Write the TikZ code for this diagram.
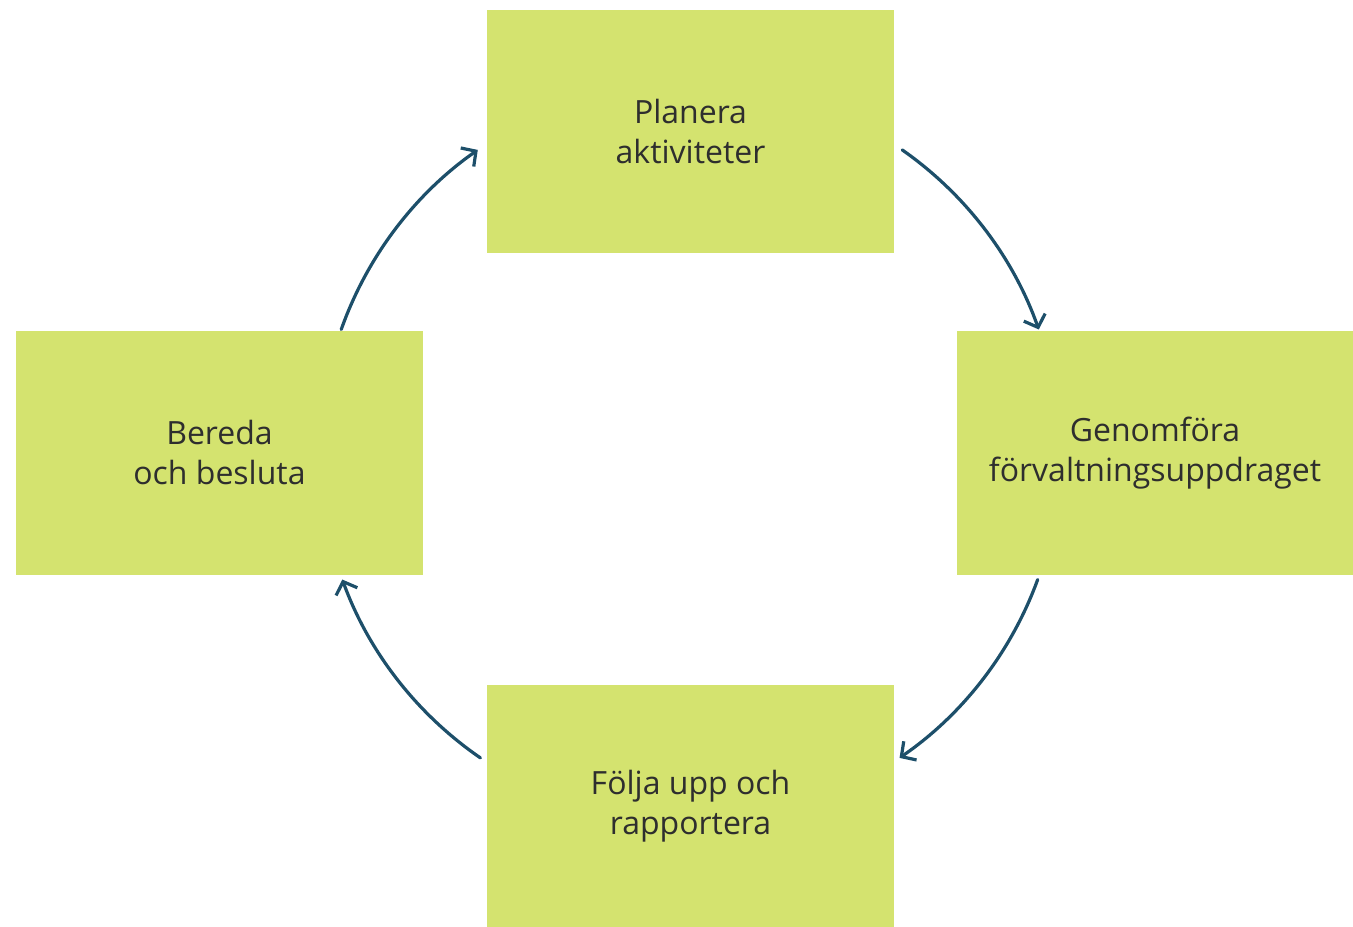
\documentclass[tikz,border=0pt]{standalone}
\usepackage{fontspec}
\setmainfont{Open Sans}
\usetikzlibrary{arrows.meta,calc}
\definecolor{boxgreen}{HTML}{D4E36F}
\definecolor{arrowblue}{HTML}{1D4F6A}
\definecolor{txtgray}{HTML}{2E2E2E}
\tikzset{
  stepbox/.style={fill=boxgreen, draw=none, inner sep=0pt, align=center,
    text=txtgray, font=\fontsize{24}{30}\selectfont},
  cyclearrow/.style={draw=arrowblue, line width=2.4pt, line cap=round,
    -{Straight Barb[length=8pt,width=17pt,line width=2.4pt]}}
}
\begin{document}
\begin{tikzpicture}[x=0.75pt,y=0.75pt]
\useasboundingbox (0,0) rectangle (1353,927);
\node[stepbox, minimum width=305.25pt, minimum height=182.25pt] (top) at (690.5,795.5) {Planera\\aktiviteter};
\node[stepbox, minimum width=297pt, minimum height=183pt] (right) at (1155,474) {Genomföra\\förvaltningsuppdraget};
\node[stepbox, minimum width=305.25pt, minimum height=183pt] (left) at (219.5,474) {Bereda\\och besluta};
\node[stepbox, minimum width=305.25pt, minimum height=181.5pt] (bottom) at (690.5,121) {Följa upp och\\rapportera};
\coordinate (c) at (690,474);
\coordinate (a1) at ($(c)+(55:370)$);
\coordinate (a2) at ($(c)+(-20:370)$);
\coordinate (a3) at ($(c)+(-124.5:370)$);
\coordinate (a4) at ($(c)+(160.5:370)$);
\draw[cyclearrow] (a1) arc[start angle=55, end angle=19.5, radius=277.5pt];
\draw[cyclearrow] (a2) arc[start angle=-20, end angle=-55.5, radius=277.5pt];
\draw[cyclearrow] (a3) arc[start angle=-124.5, end angle=-160, radius=277.5pt];
\draw[cyclearrow] (a4) arc[start angle=160.5, end angle=125, radius=277.5pt];
\end{tikzpicture}
\end{document}
